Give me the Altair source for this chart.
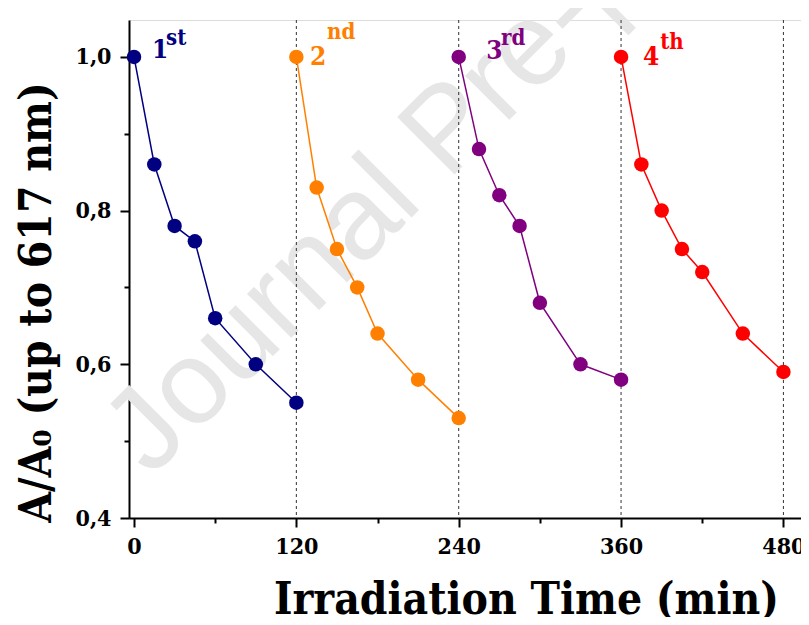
import altair as alt
import pandas as pd

# ---- data ----
cycles = ["1st", "2nd", "3rd", "4th"]
colors = ["#000080", "#FF8000", "#800080", "#FF0000"]

t1 = [0, 15, 30, 45, 60, 90, 120]
a1 = [1.00, 0.86, 0.78, 0.76, 0.66, 0.60, 0.55]
t2 = [120, 135, 150, 165, 180, 210, 240]
a2 = [1.00, 0.83, 0.75, 0.70, 0.64, 0.58, 0.53]
t3 = [240, 255, 270, 285, 300, 330, 360]
a3 = [1.00, 0.88, 0.82, 0.78, 0.68, 0.60, 0.58]
t4 = [360, 375, 390, 405, 420, 450, 480]
a4 = [1.00, 0.86, 0.80, 0.75, 0.72, 0.64, 0.59]

cycle_ends = [120, 240, 360, 480]

x_ticks = [0, 60, 120, 180, 240, 300, 360, 420, 480]
y_ticks = [0.4, 0.5, 0.6, 0.7, 0.8, 0.9, 1.0]

label_main = ["1", "2", "3", "4"]
label_sup = ["st", "nd", "rd", "th"]
label_main_x = [13.3, 130.1, 260.3, 376.3]
label_main_y = [0.999, 0.989, 0.997, 0.990]
label_sup_x = [23.7, 142.7, 271.3, 388.9]
label_sup_y = [1.016, 1.023, 1.016, 1.010]

rows = []
for name, ts, As in zip(cycles, [t1, t2, t3, t4], [a1, a2, a3, a4]):
    for t, a in zip(ts, As):
        rows.append({"cycle": name, "t": t, "a": a})
df = pd.DataFrame(rows)

lab = pd.DataFrame({
    "cycle": cycles, "main": label_main, "sup": label_sup,
    "mx": label_main_x, "my": label_main_y,
    "sx": label_sup_x, "sy": label_sup_y,
})
ends = pd.DataFrame({"t": cycle_ends})

FONT = "DejaVu Serif Condensed"
W, H = 672, 498

xscale = alt.Scale(domain=[-3.7, 493], nice=False, zero=False)
yscale = alt.Scale(domain=[0.4, 1.048], nice=False, zero=False)
cscale = alt.Scale(domain=cycles, range=colors)

xaxis = alt.Axis(
    values=x_ticks,
    title="Irradiation Time (min)",
    labelExpr="datum.value % 120 == 0 ? datum.label : ''",
    grid=False,
    domainColor="black", domainWidth=2,
    tickColor="black", tickWidth=2,
    tickSize={"condition": {"test": "datum.value % 120 != 0", "value": 5}, "value": 9},
    labelFont=FONT, labelFontSize=23, labelFontWeight="bold", labelColor="black",
    labelPadding=8, labelFlush=False,
    titleFont=FONT, titleFontSize=44, titleFontWeight="bold", titleColor="black",
    titleX=397, titleY=95, titleBaseline="alphabetic", titleAlign="center",
)
yaxis = alt.Axis(
    values=y_ticks,
    title="A/A₀ (up to 617 nm)",
    labelExpr="round(datum.value*10) % 2 == 0 ? replace(format(datum.value, '.1f'), '.', ',') : ''",
    grid=False,
    domainColor="black", domainWidth=2,
    tickColor="black", tickWidth=2,
    tickSize={"condition": {"test": "round(datum.value*10) % 2 == 1", "value": 5}, "value": 9},
    labelFont=FONT, labelFontSize=23, labelFontWeight="bold", labelColor="black",
    labelPadding=9,
    titleFont=FONT, titleFontSize=44, titleFontWeight="bold", titleColor="black",
    titleAngle=270, titleX=-79, titleY=282, titleBaseline="alphabetic", titleAlign="center",
)

watermark = alt.Chart(pd.DataFrame({"w": ["Journal Pre-proof"]})).mark_text(
    font="Liberation Sans", fontSize=118, color="#e6e6e6", angle=315,
    align="left", baseline="alphabetic",
).encode(text="w:N", x=alt.value(22), y=alt.value(458))

rules = alt.Chart(ends).mark_rule(
    color="#333333", strokeDash=[3, 3], strokeWidth=1
).encode(x=alt.X("t:Q", scale=xscale, axis=xaxis))

lines = alt.Chart(df).mark_line(strokeWidth=1.5).encode(
    x=alt.X("t:Q", scale=xscale, axis=xaxis),
    y=alt.Y("a:Q", scale=yscale, axis=yaxis),
    color=alt.Color("cycle:N", scale=cscale, legend=None),
    detail="cycle:N",
)
points = alt.Chart(df).mark_circle(size=210, opacity=1).encode(
    x=alt.X("t:Q", scale=xscale, axis=xaxis),
    y=alt.Y("a:Q", scale=yscale, axis=yaxis),
    color=alt.Color("cycle:N", scale=cscale, legend=None),
)
main_txt = alt.Chart(lab).mark_text(
    font=FONT, fontSize=26, fontWeight="bold", align="left", baseline="alphabetic"
).encode(
    x=alt.X("mx:Q", scale=xscale), y=alt.Y("my:Q", scale=yscale),
    text="main:N", color=alt.Color("cycle:N", scale=cscale, legend=None),
)
sup_txt = alt.Chart(lab).mark_text(
    font=FONT, fontSize=22, fontWeight="bold", align="left", baseline="alphabetic"
).encode(
    x=alt.X("sx:Q", scale=xscale), y=alt.Y("sy:Q", scale=yscale),
    text="sup:N", color=alt.Color("cycle:N", scale=cscale, legend=None),
)

chart = alt.layer(watermark, rules, lines, points, main_txt, sup_txt).properties(
    width=W, height=H,
    autosize=alt.AutoSizeParams(type="none"),
    padding={"left": 121, "top": 12, "right": 0, "bottom": 99},
).configure_view(stroke=None).configure(background="white")

chart.save("out.html", embed_options={"renderer": "svg", "actions": False})
